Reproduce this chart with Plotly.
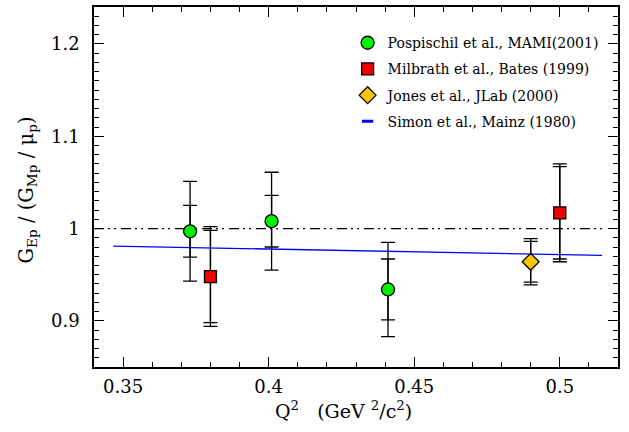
import plotly.graph_objects as go

# Pospischil et al., MAMI (2001)
pos_x = [0.373, 0.401, 0.441]
pos_y = [0.997, 1.008, 0.934]
pos_stat = [0.028, 0.028, 0.033]
pos_tot = [0.054, 0.053, 0.051]

# Milbrath et al., Bates (1999)
mil_x = [0.380, 0.500]
mil_y = [0.948, 1.017]
mil_stat = [0.050, 0.050]
mil_tot = [0.054, 0.053]

# Jones et al., JLab (2000)
jon_x = [0.490]
jon_y = [0.964]
jon_stat = [0.022]
jon_tot = [0.025]

# Simon et al., Mainz (1980) fit
sim_x = [0.3466, 0.40, 0.45, 0.5145]
sim_y = [0.981, 0.978, 0.975, 0.971]

# reference line
ref_x = [0.34, 0.516]
ref_y = [1.0, 1.0]

FONT = "DejaVu Serif"
fig = go.Figure()

fig.add_trace(go.Scatter(x=ref_x, y=ref_y, mode="lines", showlegend=False,
                         line=dict(color="black", width=1.2, dash="10px,4px,2px,4px,2px,5px")))
fig.add_trace(go.Scatter(x=sim_x, y=sim_y, mode="lines", showlegend=False,
                         line=dict(color="#0000ff", width=1.3)))

def errtrace(x, y, e):
    return go.Scatter(x=x, y=y, mode="markers", showlegend=False,
                      marker=dict(size=2, color="rgba(0,0,0,0)"),
                      error_y=dict(type="data", array=e, visible=True, color="black",
                                   thickness=1.3, width=7))

fig.add_trace(errtrace(pos_x, pos_y, pos_stat))
fig.add_trace(errtrace(mil_x, mil_y, mil_stat))
fig.add_trace(errtrace(jon_x, jon_y, jon_stat))

fig.add_trace(go.Scatter(x=pos_x, y=pos_y, mode="markers", name="Pospischil et al., MAMI(2001)",
                         legendgroup="a",
                         marker=dict(symbol="circle", size=13, color="#00f000",
                                     line=dict(color="black", width=1.3)),
                         error_y=dict(type="data", array=pos_tot, visible=True, color="black",
                                      thickness=1.3, width=7)))
fig.add_trace(go.Scatter(x=mil_x, y=mil_y, mode="markers", name="Milbrath et al., Bates (1999)",
                         legendgroup="b",
                         marker=dict(symbol="square", size=12, color="#f00000",
                                     line=dict(color="black", width=1.3)),
                         error_y=dict(type="data", array=mil_tot, visible=True, color="black",
                                      thickness=1.3, width=7)))
fig.add_trace(go.Scatter(x=jon_x, y=jon_y, mode="markers", name="Jones et al., JLab (2000)",
                         legendgroup="c",
                         marker=dict(symbol="diamond", size=13, color="#ffc400",
                                     line=dict(color="black", width=1.3)),
                         error_y=dict(type="data", array=jon_tot, visible=True, color="black",
                                      thickness=1.3, width=7)))
fig.add_trace(go.Scatter(x=[None], y=[None], mode="markers", name="Simon et al., Mainz (1980)",
                         legendgroup="d",
                         marker=dict(symbol="line-ew", size=8,
                                     line=dict(color="#0000ff", width=3))))

axis_common = dict(showline=True, linecolor="black", linewidth=1.6, mirror="allticks",
                   ticks="inside", ticklen=10, tickwidth=1.2, tickcolor="black",
                   showgrid=False, zeroline=False,
                   tickfont=dict(family=FONT, size=18, color="black"),
                   minor=dict(ticks="inside", ticklen=5, tickwidth=1.1, tickcolor="black", showgrid=False))

fig.update_xaxes(range=[0.34, 0.52], tickvals=[0.35, 0.40, 0.45, 0.50],
                 ticktext=["0.35", "0.4", "0.45", "0.5"], ticklabelstandoff=3,
                 minor_dtick=0.01, **axis_common)
fig.update_yaxes(range=[0.85, 1.24], tickvals=[0.9, 1.0, 1.1, 1.2],
                 ticktext=["0.9", "1", "1.1", "1.2"], ticklabelstandoff=9,
                 minor_dtick=0.01, **axis_common)

fig.add_annotation(text="Q<sup>2</sup>   (GeV <sup>2</sup>/c<sup>2</sup>)",
                   xref="paper", yref="paper", x=0.476, y=0, xanchor="center", yanchor="middle",
                   yshift=-43, showarrow=False,
                   font=dict(family=FONT, size=19, color="black"))
fig.add_annotation(text="G<sub>Ep</sub> / (G<sub>Mp</sub> / μ<sub>p</sub>)",
                   xref="paper", yref="paper", x=0, y=0.49, xanchor="center", yanchor="middle",
                   xshift=-66, textangle=-90, showarrow=False,
                   font=dict(family=FONT, size=19.5, color="black"))

fig.update_layout(width=629, height=432, margin=dict(l=94, r=11, t=5, b=65),
                  plot_bgcolor="white", paper_bgcolor="white",
                  legend=dict(x=0.484, y=0.944, xanchor="left", yanchor="top",
                              traceorder="grouped", tracegroupgap=5,
                              bgcolor="rgba(0,0,0,0)", itemwidth=30,
                              font=dict(family=FONT, size=14, color="black")))

fig.write_html("out.html")
